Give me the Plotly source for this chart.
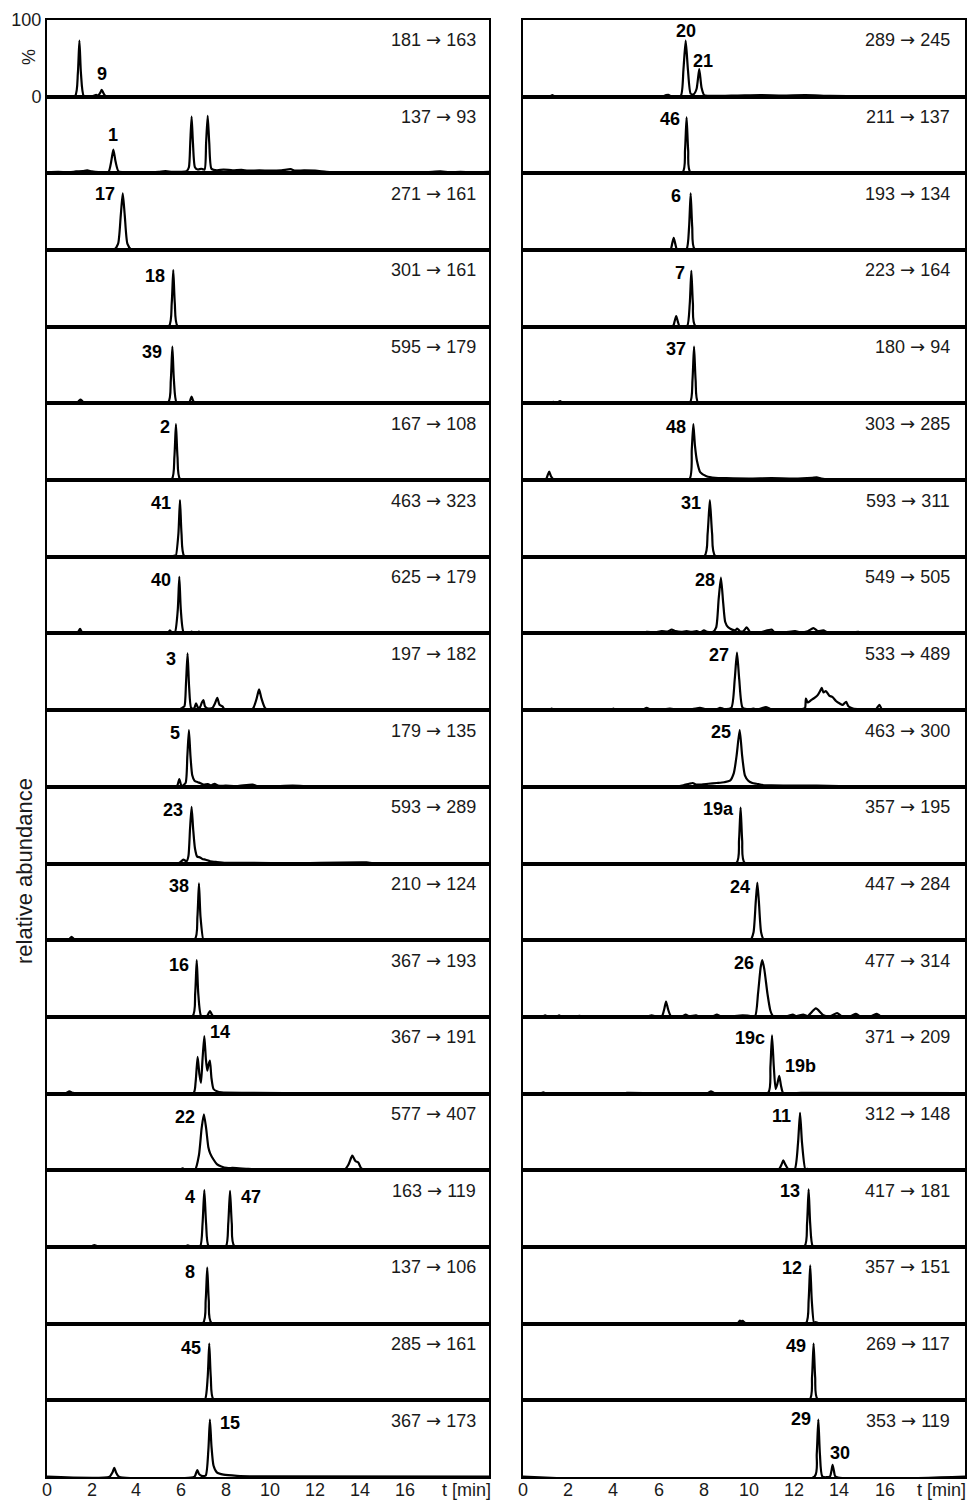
import plotly.graph_objects as go
from plotly.subplots import make_subplots

# ---------------- data (t [min], relative abundance [%]) ----------------
LEFT_MRM = ["181 → 163", "137 → 93", "271 → 161", "301 → 161", "595 → 179", "167 → 108",
            "463 → 323", "625 → 179", "197 → 182", "179 → 135", "593 → 289", "210 → 124",
            "367 → 193", "367 → 191", "577 → 407", "163 → 119", "137 → 106", "285 → 161",
            "367 → 173"]
RIGHT_MRM = ["289 → 245", "211 → 137", "193 → 134", "223 → 164", "180 → 94", "303 → 285",
             "593 → 311", "549 → 505", "533 → 489", "463 → 300", "357 → 195", "447 → 284",
             "477 → 314", "371 → 209", "312 → 148", "417 → 181", "357 → 151", "269 → 117",
             "353 → 119"]

L01 = [(0, 0.5), (1.25, 0.5), (1.38, 30), (1.45, 73), (1.52, 30), (1.65, 0.5), (2.0, 0.5),
       (2.12, 1.5), (2.2, 2.5), (2.28, 1.2), (2.38, 5), (2.45, 9), (2.52, 5), (2.62, 0.8),
       (3.5, 0.8), (5.0, 0.5), (6.6, 0.8), (8.0, 0.5), (9.5, 0.8), (11.0, 0.6), (12.5, 0.8),
       (14.0, 0.5), (15.5, 0.7), (17.0, 0.5), (18.5, 0.8), (19.8, 0.5)]
L02 = [(0, 1.5), (0.5, 2), (1.0, 1.5), (1.3, 2.5), (1.6, 3), (1.8, 4), (2.0, 2.5), (2.3, 1.5),
       (2.75, 2), (2.87, 15), (2.97, 31), (3.07, 15), (3.2, 2.5), (3.5, 1.5), (4.0, 1.5),
       (4.5, 1), (5.0, 2), (5.3, 3), (5.6, 2), (6.0, 2), (6.25, 3), (6.35, 8), (6.41, 40),
       (6.47, 74), (6.53, 40), (6.62, 8), (6.75, 5), (6.9, 6), (7.05, 5), (7.12, 40),
       (7.19, 75), (7.26, 40), (7.36, 6), (7.6, 4), (7.9, 5), (8.3, 4), (8.7, 4.5), (9.0, 3.5),
       (9.5, 4), (10.0, 3.5), (10.5, 4), (10.9, 5.5), (11.1, 3.5), (11.5, 4), (12.0, 3.5),
       (12.5, 2), (13.0, 1), (14.0, 0.8), (15.0, 0.8), (16.0, 1), (17.0, 1.5), (17.6, 2.5),
       (18.0, 1.5), (18.5, 2), (19.0, 1.5), (19.8, 2)]
L03 = [(0, 0.5), (1.5, 0.5), (3.0, 0.5), (3.18, 8), (3.3, 45), (3.39, 74), (3.48, 45),
       (3.6, 8), (3.78, 0.5), (4.5, 1), (6.0, 0.6), (7.5, 0.8), (9.0, 0.5), (10.5, 1),
       (12.0, 0.6), (13.5, 0.8), (15.0, 0.5), (16.5, 0.6), (18.0, 0.5), (19.8, 0.5)]
L04 = [(0, 0.5), (3, 0.6), (5.45, 0.5), (5.58, 30), (5.65, 74), (5.72, 30), (5.85, 0.5),
       (8, 0.6), (11, 0.5), (14, 0.6), (17, 0.5), (19.8, 0.5)]
L05 = [(0, 0.5), (1.3, 0.5), (1.42, 3), (1.5, 5), (1.58, 3), (1.7, 0.5), (5.41, 0.5),
       (5.54, 30), (5.61, 74), (5.68, 30), (5.81, 0.5), (6.35, 0.5), (6.42, 5), (6.47, 9),
       (6.52, 5), (6.6, 0.5), (9, 0.6), (12, 0.8), (14, 1.2), (16, 0.6), (19.8, 0.5)]
L06 = [(0, 0.5), (3, 0.5), (5.57, 0.5), (5.7, 30), (5.77, 73), (5.84, 30), (5.97, 0.5),
       (9, 0.6), (12, 0.5), (15, 0.6), (19.8, 0.5)]
L07 = [(0, 0.5), (3, 0.5), (5.6, 0.5), (5.7, 1.5), (5.76, 1), (5.88, 30), (5.95, 74),
       (6.02, 30), (6.15, 0.5), (8, 0.8), (11, 0.5), (14, 0.6), (19.8, 0.5)]
L08 = [(0, 0.5), (1.35, 0.5), (1.48, 6), (1.6, 0.5), (5.4, 0.5), (5.5, 4), (5.6, 1),
       (5.72, 1), (5.85, 30), (5.92, 74), (5.99, 30), (6.12, 1), (6.4, 0.5), (6.47, 2.5),
       (6.55, 0.5), (6.73, 0.5), (6.8, 2.5), (6.87, 0.5), (7.5, 0.5), (8.0, 1.5), (8.5, 0.5),
       (8.9, 1.2), (9.5, 0.5), (10.5, 1), (11.0, 0.5), (12.0, 1), (13.0, 1.5), (13.5, 0.5),
       (15, 0.5), (19.8, 0.5)]
L09 = [(0, 0.5), (1.5, 0.5), (2.0, 1), (4.5, 0.8), (5.9, 0.5), (6.05, 3), (6.15, 5),
       (6.22, 35), (6.29, 74), (6.36, 30), (6.45, 3), (6.58, 2), (6.67, 9), (6.76, 3),
       (6.85, 4), (6.93, 10), (7.0, 13), (7.07, 5), (7.2, 2), (7.4, 3), (7.52, 9), (7.62, 16),
       (7.72, 7), (7.85, 5), (7.95, 1), (8.6, 0.8), (9.2, 1.5), (9.38, 15), (9.49, 27),
       (9.6, 15), (9.78, 2), (10.3, 1), (11.0, 0.5), (11.9, 1.5), (12.5, 0.5), (13.5, 1),
       (15, 0.5), (19.8, 0.5)]
L10 = [(0, 0.5), (3, 0.5), (5.8, 0.5), (5.92, 10), (6.02, 1), (6.2, 5), (6.28, 40),
       (6.35, 74), (6.42, 40), (6.5, 15), (6.6, 8), (6.75, 6), (6.85, 5), (7.0, 3),
       (7.2, 3.5), (7.35, 2), (7.5, 4), (7.65, 1.5), (8.0, 1.5), (8.5, 0.8), (9.2, 3),
       (9.4, 0.8), (11, 1.5), (12, 0.5), (19.8, 0.5)]
L11 = [(0, 0.5), (3, 0.5), (5.9, 0.5), (6.1, 5), (6.25, 3), (6.33, 10), (6.4, 45),
       (6.47, 74), (6.54, 45), (6.62, 20), (6.72, 9), (6.85, 8), (6.95, 6), (7.1, 5),
       (7.3, 3), (7.6, 2), (8.0, 1), (9, 0.8), (11, 0.5), (14.3, 1.5), (14.6, 0.5),
       (19.8, 0.5)]
L12 = [(0, 0.5), (0.95, 0.5), (1.1, 4.5), (1.25, 0.5), (6.6, 0.5), (6.73, 30), (6.8, 74),
       (6.87, 30), (7.0, 0.5), (7.07, 1.5), (7.15, 0.5), (19.8, 0.5)]
L13 = [(0, 0.5), (6.5, 0.5), (6.63, 30), (6.7, 74), (6.77, 30), (6.9, 1), (7.15, 0.5),
       (7.22, 4), (7.29, 7.5), (7.36, 4), (7.45, 0.5), (10, 0.8), (19.8, 0.5)]
L14 = [(0, 0.5), (0.85, 0.5), (1.0, 3), (1.15, 1), (1.4, 0.5), (6.55, 0.5), (6.65, 15),
       (6.74, 48), (6.82, 25), (6.89, 14), (6.96, 45), (7.04, 75), (7.11, 45), (7.17, 30),
       (7.23, 38), (7.29, 43), (7.36, 20), (7.45, 6), (7.6, 3), (7.8, 1.5), (9, 1),
       (12, 0.6), (19.8, 0.5)]
L15 = [(0, 0.5), (3, 0.5), (5.95, 0.5), (6.07, 2.5), (6.2, 0.5), (6.62, 0.5), (6.8, 20),
       (6.92, 55), (7.02, 73), (7.12, 55), (7.22, 30), (7.3, 22), (7.45, 14), (7.6, 8),
       (7.8, 5), (8.04, 3), (8.3, 3), (8.6, 2.5), (9.0, 2), (9.5, 1), (11, 0.8), (13.3, 0.5),
       (13.5, 8), (13.66, 19), (13.8, 12), (13.93, 10), (14.05, 3), (14.2, 0.5), (16, 0.8),
       (19.8, 0.5)]
L16 = [(0, 0.5), (1.95, 0.5), (2.12, 2.5), (2.3, 0.5), (6.15, 0.5), (6.3, 2), (6.45, 0.5),
       (6.85, 0.5), (6.96, 30), (7.04, 74), (7.12, 30), (7.24, 0.5), (8.0, 0.5), (8.11, 30),
       (8.19, 73), (8.27, 30), (8.4, 0.5), (19.8, 0.5)]
L17 = [(0, 0.5), (6.97, 0.5), (7.1, 30), (7.17, 73), (7.24, 30), (7.37, 0.5), (19.8, 0.5)]
L18 = [(0, 0.5), (3.1, 0.5), (3.19, 1.5), (3.3, 0.5), (5.6, 0.5), (5.7, 1.2), (5.8, 0.5),
       (6.5, 0.5), (6.6, 1), (6.7, 0.5), (7.06, 0.5), (7.19, 30), (7.26, 74), (7.33, 30),
       (7.46, 0.5), (10.2, 0.5), (10.3, 1.2), (10.4, 0.5), (12.2, 0.5), (12.3, 1),
       (12.4, 0.5), (19.8, 0.5)]
L19 = [(0, 0.5), (2.8, 0.5), (2.93, 6), (3.01, 12), (3.09, 6), (3.22, 0.5), (6.6, 0.5),
       (6.68, 6), (6.73, 9), (6.8, 4), (6.92, 1.5), (7.1, 2), (7.22, 35), (7.29, 75),
       (7.36, 40), (7.45, 15), (7.6, 6), (7.9, 3), (8.5, 1.5), (9.5, 0.8), (19.8, 0.5)]

R01 = [(0, 0.5), (1.2, 0.5), (1.3, 2), (1.4, 0.5), (6.2, 0.5), (6.33, 2), (6.43, 2.5),
       (6.55, 0.5), (6.98, 1), (7.1, 35), (7.2, 73), (7.3, 35), (7.42, 4), (7.55, 3),
       (7.68, 10), (7.8, 36), (7.9, 12), (8.02, 2), (8.3, 1), (9.5, 1.5), (10.5, 2),
       (11.5, 1.5), (12.5, 2), (13.6, 1), (15, 0.5), (19.56, 0.5)]
R02 = [(0, 0.5), (7.05, 0.5), (7.17, 30), (7.24, 73), (7.31, 30), (7.43, 0.5), (19.56, 0.5)]
R03 = [(0, 0.5), (6.52, 0.5), (6.6, 8), (6.67, 16), (6.74, 8), (6.82, 0.5), (7.23, 0.5),
       (7.35, 30), (7.42, 74), (7.49, 30), (7.61, 0.5), (12.5, 0.8), (19.56, 0.5)]
R04 = [(0, 0.5), (6.63, 0.5), (6.71, 7), (6.78, 14), (6.85, 7), (6.93, 0.5), (7.26, 0.5),
       (7.38, 30), (7.45, 73), (7.52, 30), (7.64, 0.5), (19.56, 0.5)]
R05 = [(0, 0.5), (0.7, 0.5), (0.8, 1.5), (0.9, 0.5), (1.25, 0.5), (1.34, 2), (1.45, 1),
       (1.55, 1.5), (1.64, 3), (1.75, 0.8), (2.0, 1), (5.5, 0.6), (7.38, 0.5), (7.5, 30),
       (7.57, 74), (7.64, 30), (7.76, 0.5), (10, 0.8), (14, 0.6), (19.56, 0.5)]
R06 = [(0, 0.5), (1.0, 0.5), (1.1, 7), (1.16, 11), (1.24, 5), (1.35, 1), (2.5, 1), (4, 0.8),
       (5.5, 1), (7.36, 1), (7.47, 40), (7.54, 73), (7.61, 45), (7.7, 25), (7.85, 10),
       (8.12, 5), (8.5, 3), (9, 2.5), (10, 2), (11, 2.5), (12, 2), (12.8, 3), (13.0, 3.5),
       (13.2, 2), (13.5, 0.8), (15, 0.5), (19.56, 0.5)]
R07 = [(0, 0.5), (8.02, 0.5), (8.17, 30), (8.27, 74), (8.37, 30), (8.52, 0.5), (19.56, 0.5)]
R08 = [(0, 0.5), (0.31, 1.5), (0.45, 0.5), (5.3, 0.5), (5.47, 2), (5.8, 1.5), (6.14, 3),
       (6.4, 2.5), (6.58, 5), (6.75, 3), (7.0, 2), (7.24, 3), (7.45, 2), (7.69, 3),
       (7.85, 1.5), (8.01, 4), (8.15, 2), (8.4, 2), (8.55, 8), (8.66, 45), (8.76, 73),
       (8.86, 40), (8.95, 15), (9.08, 8), (9.25, 5), (9.4, 4), (9.48, 6.5), (9.6, 3),
       (9.75, 3), (9.9, 8), (10.05, 2), (10.5, 1.5), (11.0, 5), (11.15, 1), (11.6, 1.5),
       (12.04, 3), (12.3, 1.5), (12.6, 3), (12.85, 7), (13.05, 3), (13.29, 4), (13.5, 1),
       (14.3, 0.8), (14.84, 2), (15.1, 0.5), (19.1, 1.5), (19.56, 0.5)]
R09 = [(0, 0.5), (1.15, 0.5), (1.27, 2), (1.4, 0.5), (3.9, 0.5), (4.0, 2), (4.1, 0.5),
       (5.3, 0.5), (5.47, 3), (5.65, 0.5), (6.2, 1), (6.5, 2), (6.8, 1), (7.5, 1.5),
       (7.83, 3), (8.1, 1), (8.6, 1.5), (8.72, 3), (8.9, 1.5), (9.22, 3), (9.37, 40),
       (9.47, 75), (9.57, 40), (9.72, 3), (10.0, 1), (10.19, 2), (10.4, 1), (10.75, 4),
       (10.95, 1.5), (11.5, 1), (12.3, 1), (12.48, 3), (12.52, 15), (12.6, 10), (12.75, 13),
       (12.9, 16), (13.05, 20), (13.15, 25), (13.22, 29), (13.3, 23), (13.4, 25), (13.55, 19),
       (13.7, 17), (13.85, 12), (14.0, 9), (14.15, 7), (14.3, 11), (14.4, 5), (14.6, 2),
       (14.9, 1), (15.6, 0.5), (15.77, 7), (15.9, 0.5), (16.5, 1), (19.56, 0.5)]
R10 = [(0, 0.5), (3, 0.5), (6.8, 0.5), (7.1, 2), (7.35, 4), (7.51, 5), (7.65, 3), (7.9, 3),
       (8.2, 4), (8.57, 5), (8.9, 6), (9.16, 8), (9.33, 18), (9.45, 40), (9.59, 74),
       (9.7, 40), (9.82, 15), (9.97, 8), (10.15, 5), (10.34, 4), (10.55, 2.5), (11, 2),
       (12, 1.5), (13, 1.5), (14, 1), (15, 0.5), (19.56, 0.5)]
R11 = [(0, 0.5), (9.44, 0.5), (9.56, 30), (9.63, 73), (9.7, 30), (9.82, 0.5), (19.56, 0.5)]
R12 = [(0, 0.5), (8.85, 0.5), (8.94, 1.5), (9.05, 0.5), (10.07, 0.5), (10.2, 10),
       (10.3, 50), (10.37, 75), (10.44, 50), (10.54, 10), (10.67, 0.5), (19.56, 0.5)]
R13 = [(0, 0.5), (0.85, 0.5), (0.98, 2), (1.1, 0.5), (1.5, 0.5), (1.6, 2), (1.7, 0.5),
       (2.4, 0.5), (2.5, 1.5), (2.6, 0.5), (5.5, 0.5), (5.69, 2), (5.85, 1), (6.15, 1),
       (6.25, 10), (6.33, 20), (6.42, 10), (6.55, 1), (7.05, 1), (7.2, 3), (7.35, 1),
       (7.66, 2), (7.8, 0.5), (8.4, 0.5), (8.58, 3), (8.75, 0.5), (9.3, 1), (9.72, 2),
       (10.0, 1.5), (10.27, 1), (10.4, 30), (10.52, 65), (10.59, 74), (10.68, 62),
       (10.82, 30), (10.95, 8), (11.07, 1), (11.7, 1), (11.94, 3), (12.1, 1), (12.4, 3),
       (12.6, 1), (12.96, 11), (13.3, 2), (13.6, 1), (13.9, 5), (14.1, 1), (14.5, 1),
       (14.73, 4), (14.9, 1), (15.4, 0.8), (15.66, 4), (15.85, 0.5), (19.56, 0.5)]
R14 = [(0, 0.5), (0.8, 0.5), (0.9, 1.5), (1.0, 0.5), (4.5, 0.5), (4.6, 1), (8.15, 0.5),
       (8.32, 3), (8.5, 0.5), (10.85, 1), (10.95, 35), (11.02, 76), (11.1, 35), (11.18, 6),
       (11.25, 12), (11.34, 23), (11.42, 10), (11.52, 0.5), (12.3, 1), (12.7, 1),
       (19.56, 0.5)]
R15 = [(0, 0.5), (9.55, 0.5), (9.68, 1.5), (9.8, 0.5), (11.3, 0.5), (11.45, 8), (11.52, 13),
       (11.6, 8), (11.75, 1), (12.02, 1), (12.17, 35), (12.26, 75), (12.35, 35), (12.5, 1),
       (12.6, 2), (12.7, 0.5), (19.56, 0.5)]
R16 = [(0, 0.5), (5, 0.7), (9.0, 0.5), (9.05, 1), (12.45, 0.5), (12.57, 30), (12.64, 75),
       (12.71, 30), (12.83, 0.5), (13.2, 1), (19.56, 0.5)]
R17 = [(0, 0.5), (9.5, 0.5), (9.6, 4), (9.65, 3), (9.72, 3.5), (9.85, 0.5), (12.52, 0.5),
       (12.64, 30), (12.71, 76), (12.78, 30), (12.88, 1), (12.95, 2), (13.1, 0.5),
       (19.56, 0.5)]
R18 = [(0, 0.5), (12.67, 0.5), (12.79, 30), (12.86, 74), (12.93, 30), (13.05, 0.5),
       (19.56, 0.5)]
R19 = [(0, 0.5), (12.9, 0.5), (13.0, 30), (13.07, 75), (13.14, 30), (13.25, 0.5),
       (13.58, 0.5), (13.65, 8), (13.7, 16), (13.76, 8), (13.83, 0.5), (19.56, 0.5)]

LEFT_TRACES = [L01, L02, L03, L04, L05, L06, L07, L08, L09, L10, L11, L12, L13, L14, L15,
               L16, L17, L18, L19]
RIGHT_TRACES = [R01, R02, R03, R04, R05, R06, R07, R08, R09, R10, R11, R12, R13, R14, R15,
                R16, R17, R18, R19]

# peak labels: (row, text, t, y, anchor)
LEFT_PEAKS = [(1, "9", 2.45, 29, "center"), (2, "1", 2.95, 50, "center"),
              (3, "17", 3.12, 73, "right"), (4, "18", 5.36, 66, "right"),
              (5, "39", 5.23, 67, "right"), (6, "2", 5.58, 69, "right"),
              (7, "41", 5.65, 70, "right"), (8, "40", 5.62, 70, "right"),
              (9, "3", 5.87, 67, "right"), (10, "5", 6.03, 70, "right"),
              (11, "23", 6.17, 70, "right"), (12, "38", 6.43, 71, "right"),
              (13, "16", 6.43, 68, "right"), (14, "14", 7.22, 80, "left"),
              (15, "22", 6.72, 70, "right"), (16, "4", 6.70, 65, "right"),
              (16, "47", 8.6, 65, "left"), (17, "8", 6.70, 67, "right"),
              (18, "45", 7.0, 68, "right"), (19, "15", 7.66, 70, "left")]
RIGHT_PEAKS = [(1, "20", 7.2, 86, "center"), (1, "21", 7.95, 47, "center"),
               (2, "46", 7.02, 71, "right"), (3, "6", 7.09, 70, "right"),
               (4, "7", 7.24, 70, "right"), (5, "37", 7.31, 71, "right"),
               (6, "48", 7.31, 69, "right"), (7, "31", 7.95, 70, "right"),
               (8, "28", 8.57, 70, "right"), (9, "27", 9.2, 72, "right"),
               (10, "25", 9.31, 71, "right"), (11, "19a", 9.41, 71, "right"),
               (12, "24", 10.15, 70, "right"), (13, "26", 10.3, 70, "right"),
               (14, "19c", 10.81, 72, "right"), (14, "19b", 11.49, 36, "left"),
               (15, "11", 11.96, 71, "right"), (16, "13", 12.36, 73, "right"),
               (17, "12", 12.45, 72, "right"), (18, "49", 12.6, 71, "right"),
               (19, "29", 12.85, 75, "right"), (19, "30", 14.03, 31, "center")]

X_TICKS = [0, 2, 4, 6, 8, 10, 12, 14, 16]
X_TICK_TEXT = ["0", "2", "4", "6", "8", "10", "12", "14", "16"]
AXIS_TITLE = "t [min]"

# ---------------- figure ----------------
FONT = "Liberation Sans, Arial, sans-serif"
ARROW_FONT = "DejaVu Sans"
N = 19
fig = make_subplots(rows=N, cols=2, horizontal_spacing=0.036, vertical_spacing=0)


def mrm_text(s):
    a, b = s.split(" → ")
    return (a + ' <span style="font-family:' + ARROW_FONT + '">→</span> ' + b)


COLS = [(1, LEFT_TRACES, LEFT_MRM, LEFT_PEAKS, [0, 19.8], 19.3, 18.78),
        (2, RIGHT_TRACES, RIGHT_MRM, RIGHT_PEAKS, [-0.02, 19.56], 18.98, 18.5)]

for col, traces, mrm, peaks, xr, mrm_x, tlab_x in COLS:
    for r, pts in enumerate(traces, start=1):
        ts = [p[0] for p in pts]
        ys = [p[1] for p in pts]
        fig.add_trace(go.Scatter(x=ts, y=ys, mode="lines",
                                 line=dict(color="black", width=2.2, shape="spline", smoothing=0.6),
                                 showlegend=False, hoverinfo="skip"), row=r, col=col)
        fig.add_annotation(row=r, col=col, x=mrm_x, y=74, text=mrm_text(mrm[r - 1]),
                           showarrow=False, xanchor="right", yanchor="middle",
                           font=dict(family=FONT, size=18, color="#1a1a1a"))
        fig.update_xaxes(row=r, col=col, range=xr, showgrid=False, zeroline=False,
                         showline=True, mirror=True, linecolor="black", linewidth=2,
                         ticks="", showticklabels=False, automargin=False)
        first_panel = (r == 1 and col == 1)
        fig.update_yaxes(row=r, col=col, range=[0, 100], showgrid=False, zeroline=False,
                         showline=True, mirror=True, linecolor="black", linewidth=2,
                         ticks="", showticklabels=first_panel, automargin=False,
                         tickvals=[0, 100], ticktext=["0", "100"],
                         tickfont=dict(family=FONT, size=18, color="#1a1a1a"))
    for (r, txt, t, y, anc) in peaks:
        fig.add_annotation(row=r, col=col, x=t, y=y, text="<b>" + txt + "</b>",
                           showarrow=False, xanchor=anc, yanchor="middle",
                           font=dict(family=FONT, size=18, color="black"))
    # bottom tick labels placed on the bottom subplot's own x scale
    idx = (N - 1) * 2 + col
    for v, s in zip(X_TICKS + [tlab_x], X_TICK_TEXT + [AXIS_TITLE]):
        fig.add_annotation(xref="x%d" % idx, yref="y%d" % idx, x=v, y=0, yshift=-13,
                           text=s, showarrow=False, xanchor="center", yanchor="middle",
                           font=dict(family=FONT, size=18, color="#1a1a1a"))

fig.add_annotation(xref="paper", yref="paper", x=0, y=0.9746, xshift=-18, text="%",
                   textangle=-90, showarrow=False, xanchor="center", yanchor="middle",
                   font=dict(family=FONT, size=18, color="#1a1a1a"))
fig.add_annotation(xref="paper", yref="paper", x=0, y=0.4159, xshift=-23,
                   text="relative abundance", textangle=-90, showarrow=False,
                   xanchor="center", yanchor="middle",
                   font=dict(family=FONT, size=22, color="#1a1a1a"))

fig.update_layout(width=969, height=1501, template="none",
                  margin=dict(l=47, r=4, t=20, b=24),
                  paper_bgcolor="white", plot_bgcolor="white", showlegend=False)

fig.write_html("out.html")
